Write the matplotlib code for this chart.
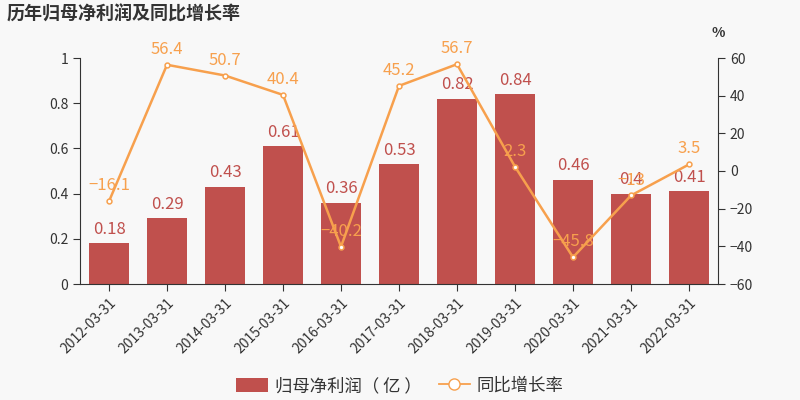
import matplotlib
matplotlib.use("Agg")
import matplotlib.pyplot as plt
import numpy as np
from matplotlib.patches import Patch, FancyBboxPatch
from matplotlib.lines import Line2D

plt.rcParams['font.family'] = ['Noto Sans CJK SC', 'DejaVu Sans']
plt.rcParams['axes.unicode_minus'] = True

categories = ["2012-03-31", "2013-03-31", "2014-03-31", "2015-03-31", "2016-03-31",
              "2017-03-31", "2018-03-31", "2019-03-31", "2020-03-31", "2021-03-31", "2022-03-31"]
profit = [0.18, 0.29, 0.43, 0.61, 0.36, 0.53, 0.82, 0.84, 0.46, 0.4, 0.41]
growth = [-16.1, 56.4, 50.7, 40.4, -40.2, 45.2, 56.7, 2.3, -45.8, -13, 3.5]
profit_labels = ["0.18", "0.29", "0.43", "0.61", "0.36", "0.53", "0.82", "0.84", "0.46", "0.4", "0.41"]
growth_labels = ["−16.1", "56.4", "50.7", "40.4", "−40.2", "45.2", "56.7", "2.3", "−45.8", "−13", "3.5"]

bg = "#f8f8f8"
bar_c = "#c0504d"
line_c = "#f7a04d"
txt_c = "#333333"

fig = plt.figure(figsize=(8, 4), dpi=100, facecolor=bg)
ax = fig.add_axes([0.1, 0.29, 0.7975, 0.565], facecolor=bg)
x = np.arange(len(categories))
ax.bar(x, profit, width=0.7, color=bar_c, zorder=2)
ax.set_xlim(-0.5, len(categories) - 0.5)
ax.set_ylim(0, 1)
ax.set_yticks([0, 0.2, 0.4, 0.6, 0.8, 1])
ax.set_yticklabels(["0", "0.2", "0.4", "0.6", "0.8", "1"])
ax.set_xticks(x)
ax.set_xticklabels(categories, rotation=45, ha="right", rotation_mode="anchor")
for xi, v, lab in zip(x, profit, profit_labels):
    ax.annotate(lab, (xi, v), xytext=(0, 4), textcoords="offset points",
                ha="center", va="bottom", color=bar_c, fontsize=12, zorder=3)

ax2 = ax.twinx()
ax2.set_ylim(-60, 60)
ax2.set_yticks([-60, -40, -20, 0, 20, 40, 60])
ax2.plot(x, growth, color=line_c, lw=1.8, marker="o", ms=3.5, mfc="white", mec=line_c, mew=1.1, zorder=4)
for xi, v, lab in zip(x, growth, growth_labels):
    ax2.annotate(lab, (xi, v), xytext=(0, 5), textcoords="offset points",
                 ha="center", va="bottom", color=line_c, fontsize=12, zorder=5)

for a in (ax, ax2):
    a.spines["top"].set_visible(False)
    a.spines["left"].set_color(txt_c)
    a.spines["right"].set_color(txt_c)
    a.spines["bottom"].set_color(txt_c)
    a.tick_params(colors=txt_c, labelsize=10, length=5)
ax.spines["right"].set_visible(False)
ax2.spines["left"].set_visible(False)
ax2.spines["bottom"].set_visible(False)

fig.text(0.8975, 0.9, "%", ha="center", va="bottom", fontsize=10, color=txt_c, fontweight="bold")
fig.text(0.008, 0.965, "历年归母净利润及同比增长率", ha="left", va="center",
         fontsize=13, fontweight="bold", color=txt_c)

handles = [Patch(facecolor=bar_c, label="归母净利润（ 亿 ）"),
           Line2D([0], [0], color=line_c, marker="o", mfc="white", mec=line_c, ms=8, lw=1.3, label="同比增长率")]
fig.legend(handles=handles, loc="center", bbox_to_anchor=(0.5, 0.035), ncol=2, frameon=False,
           fontsize=12.5, handlelength=1.8, handleheight=0.9, columnspacing=1.0, handletextpad=0.4,
           labelcolor=txt_c)

fig.savefig("out.png", dpi=100, facecolor=bg)
